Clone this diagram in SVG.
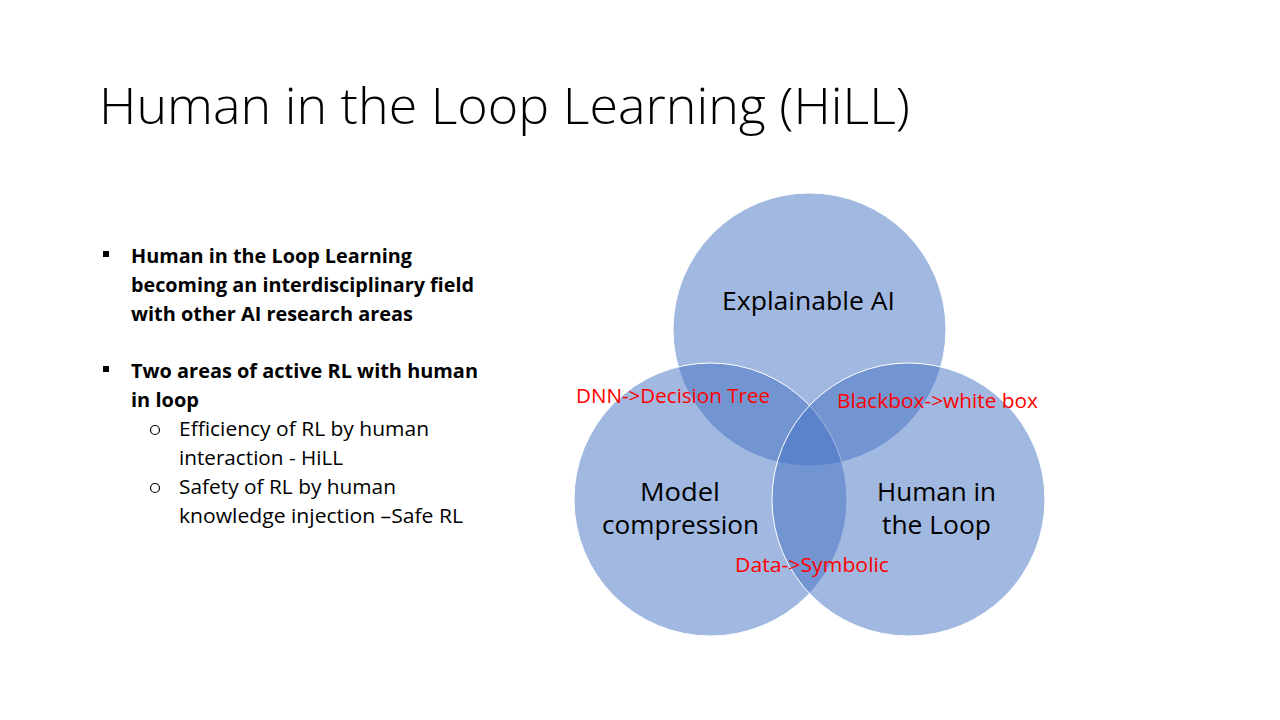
<svg xmlns="http://www.w3.org/2000/svg" width="1280" height="720" viewBox="0 0 1280 720">
  <style>
    .title { font-family: "Open Sans", "Noto Sans", "Liberation Sans", sans-serif; font-weight: 300; font-size: 50px; fill: #000; }
    .b1 { font-family: "Open Sans", "Noto Sans", "Liberation Sans", sans-serif; font-weight: 700; font-size: 19px; fill: #000; }
    .b2 { font-family: "Open Sans", "Noto Sans", "Liberation Sans", sans-serif; font-weight: 400; font-size: 20px; fill: #000; }
    .set { fill: #4472C4; fill-opacity: 0.5; stroke: #FFFFFF; stroke-width: 1; }
    .lbl { font-family: "Open Sans", "Noto Sans", "Liberation Sans", sans-serif; font-size: 25px; fill: #000; text-anchor: middle; }
    .red { font-family: "Open Sans", "Noto Sans", "Liberation Sans", sans-serif; font-size: 20px; fill: #FF0000; }
  </style>
  <rect width="1280" height="720" fill="#FFFFFF"/>

  <!-- Slide title -->
  <text class="title" x="99" y="124" textLength="811" lengthAdjust="spacingAndGlyphs">Human in the Loop Learning (HiLL)</text>

  <!-- Bullet list -->
  <g id="bullets">
    <rect x="103" y="251" width="6" height="6" fill="#000"/>
    <text class="b1" x="131" y="263" textLength="281" lengthAdjust="spacingAndGlyphs">Human in the Loop Learning</text>
    <text class="b1" x="131" y="292" textLength="343" lengthAdjust="spacingAndGlyphs">becoming an interdisciplinary field</text>
    <text class="b1" x="131" y="321" textLength="282" lengthAdjust="spacingAndGlyphs">with other AI research areas</text>

    <rect x="103" y="366" width="6" height="6" fill="#000"/>
    <text class="b1" x="131" y="378" textLength="347" lengthAdjust="spacingAndGlyphs">Two areas of active RL with human</text>
    <text class="b1" x="131" y="407" textLength="68" lengthAdjust="spacingAndGlyphs">in loop</text>

    <circle cx="155" cy="430" r="4.5" fill="none" stroke="#000" stroke-width="1.2"/>
    <text class="b2" x="179" y="436" textLength="250" lengthAdjust="spacingAndGlyphs">Efficiency of RL by human</text>
    <text class="b2" x="179" y="465" textLength="164" lengthAdjust="spacingAndGlyphs">interaction - HiLL</text>
    <circle cx="155" cy="488" r="4.5" fill="none" stroke="#000" stroke-width="1.2"/>
    <text class="b2" x="179" y="494" textLength="217" lengthAdjust="spacingAndGlyphs">Safety of RL by human</text>
    <text class="b2" x="179" y="523" textLength="284" lengthAdjust="spacingAndGlyphs">knowledge injection –Safe RL</text>
  </g>

  <!-- Three overlapping sets -->
  <g id="set-explainable-ai">
    <circle class="set" cx="809.5" cy="329.5" r="136.5"/>
  </g>
  <g id="set-model-compression">
    <circle class="set" cx="710.5" cy="499.5" r="136.5"/>
  </g>
  <g id="set-human-in-the-loop">
    <circle class="set" cx="908.5" cy="499.5" r="136.5"/>
  </g>

  <!-- Set names -->
  <g id="set-labels">
    <text class="lbl" x="808.5" y="310" textLength="173" lengthAdjust="spacingAndGlyphs">Explainable AI</text>
    <text class="lbl" x="680" y="501" textLength="80" lengthAdjust="spacingAndGlyphs">Model</text>
    <text class="lbl" x="680.5" y="534" textLength="157" lengthAdjust="spacingAndGlyphs">compression</text>
    <text class="lbl" x="936.5" y="501" textLength="119" lengthAdjust="spacingAndGlyphs">Human in</text>
    <text class="lbl" x="936.5" y="534" textLength="109" lengthAdjust="spacingAndGlyphs">the Loop</text>
  </g>

  <!-- Overlap annotations -->
  <g id="overlap-labels">
    <text class="red" x="576" y="403" textLength="194" lengthAdjust="spacingAndGlyphs">DNN-&gt;Decision Tree</text>
    <text class="red" x="837" y="408" textLength="201" lengthAdjust="spacingAndGlyphs">Blackbox-&gt;white box</text>
    <text class="red" x="735" y="572" textLength="154" lengthAdjust="spacingAndGlyphs">Data-&gt;Symbolic</text>
  </g>
</svg>
